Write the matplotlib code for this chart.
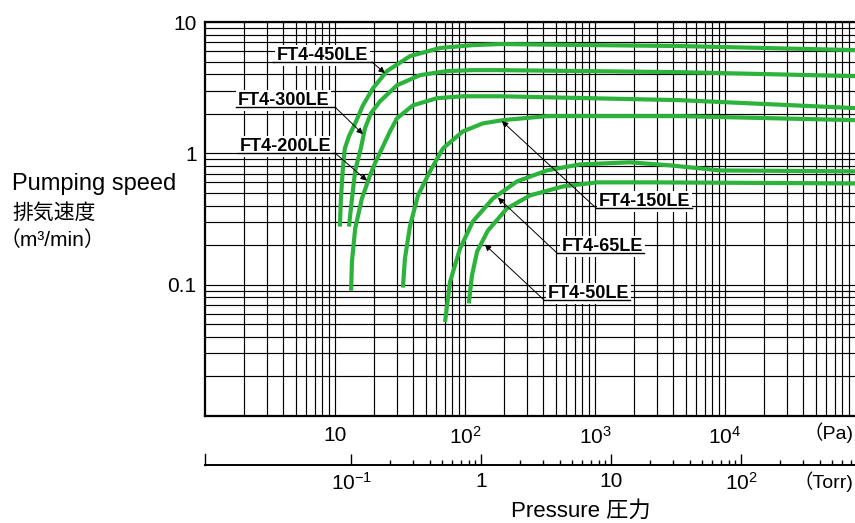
import numpy as np
import matplotlib.pyplot as plt
from matplotlib.ticker import LogLocator, NullFormatter, FixedLocator

plt.rcParams['font.family'] = ['Liberation Sans', 'Noto Sans CJK JP']
plt.rcParams['mathtext.fontset'] = 'custom'
plt.rcParams['mathtext.rm'] = 'Liberation Sans'

# pumping speed curves: pressure (Pa) / speed (m3/min)
ft450_pa = [10.9, 11.1, 11.5, 11.9, 12.8, 14.3, 16.4, 19.6, 25.1, 37.8, 64.2, 115, 186, 4510, 1e5]
ft450_s = [0.277, 0.45, 0.77, 1.09, 1.35, 1.69, 2.32, 3.13, 4.23, 5.50, 6.34, 6.67, 6.79, 6.56, 6.11]

ft300_pa = [12.8, 13.5, 14.3, 15.8, 17.0, 18.9, 22.2, 30.0, 45.1, 72.7, 115, 186, 4510, 1e5]
ft300_s = [0.277, 0.45, 0.74, 1.09, 1.55, 2.02, 2.49, 3.30, 3.94, 4.23, 4.30, 4.30, 4.15, 3.87]

ft200_pa = [13.3, 13.5, 14.3, 16.1, 18.6, 20.3, 23.0, 26.5, 30.0, 39.8, 60.9, 96.5, 186, 4510, 1e5]
ft200_s = [0.090, 0.150, 0.268, 0.453, 0.68, 0.84, 1.09, 1.47, 1.85, 2.32, 2.63, 2.72, 2.72, 2.54, 2.21]

ft150_pa = [33.3, 34.5, 37.8, 43.5, 53.8, 67.7, 96.5, 137, 196, 427, 4510, 1e5]
ft150_s = [0.095, 0.158, 0.282, 0.478, 0.729, 1.09, 1.47, 1.69, 1.79, 1.92, 1.92, 1.79]

ft65_pa = [70.2, 76.7, 91.5, 115, 164, 251, 427, 767, 1860, 3780, 9160, 1e5]
ft65_s = [0.052, 0.105, 0.188, 0.303, 0.453, 0.611, 0.741, 0.824, 0.854, 0.810, 0.741, 0.729]

ft50_pa = [107, 113, 124, 150, 210, 316, 567, 1036, 2790, 1e5]
ft50_s = [0.072, 0.117, 0.179, 0.258, 0.380, 0.478, 0.560, 0.601, 0.601, 0.590]

names = ['FT4-450LE', 'FT4-300LE', 'FT4-200LE', 'FT4-150LE', 'FT4-65LE', 'FT4-50LE']
curves = [(ft450_pa, ft450_s), (ft300_pa, ft300_s), (ft200_pa, ft200_s),
          (ft150_pa, ft150_s), (ft65_pa, ft65_s), (ft50_pa, ft50_s)]
# where each leader arrow touches its curve (Pa, m3/min)
arrow_tips = [(24.2, 4.08), (16.4, 1.40), (17.6, 0.62), (192, 1.76), (179, 0.46), (142, 0.202)]

pa_ticks = [10, 100, 1000, 10000]
pa_labels = ['10', r'$\mathregular{10^{2}}$', r'$\mathregular{10^{3}}$', r'$\mathregular{10^{4}}$']
torr_ticks = [0.1, 1, 10, 100]
torr_labels = [r'$\mathregular{10^{-1}}$', '1', '10', r'$\mathregular{10^{2}}$']
speed_ticks = [0.1, 1, 10]
speed_labels = ['0.1', '1', '10']

PA_PER_TORR = 133.322
GREEN = '#2bb33b'

W, H = 855, 523
fig = plt.figure(figsize=(W / 100, H / 100), dpi=100)

def fig_xy(px, py):
    return px / W, 1 - py / H

# main axes: 1 .. 1e5 Pa, 0.01 .. 10 m3/min
ax = fig.add_axes([205 / W, 1 - 416 / H, 650 / W, 394 / H])
ax.set_xscale('log')
ax.set_yscale('log')
ax.set_xlim(1, 1e5)
ax.set_ylim(0.01, 10)

for a in (ax.xaxis, ax.yaxis):
    a.set_minor_locator(LogLocator(base=10, subs=np.arange(2, 10), numticks=50))
    a.set_minor_formatter(NullFormatter())
ax.set_xticks(pa_ticks, pa_labels)
ax.set_yticks(speed_ticks, speed_labels)
ax.tick_params(which='both', length=0)
ax.tick_params(axis='x', pad=7, labelsize=15)
ax.tick_params(axis='y', pad=6, labelsize=15)
ax.grid(True, which='both', color='black', lw=0.85)
ax.set_axisbelow(True)
for s in ('left', 'top', 'bottom'):
    ax.spines[s].set_linewidth(1.6)
ax.spines['right'].set_visible(False)

for (p, s) in curves:
    ax.plot(p, s, color=GREEN, lw=3, solid_capstyle='butt', solid_joinstyle='round', zorder=3)

# labels with underline and leader arrow, positions in pixels
# (text left, baseline, underline y, underline x0, x1, leader starts at 'right' or 'left')
label_layout = [
    (277, 60, 62, 273, 372, 'right'),
    (238, 105, 107, 236, 335, 'right'),
    (240, 151, 153, 238, 335, 'right'),
    (599, 206, 208, 596, 692, 'left'),
    (562, 251, 253, 557, 644, 'left'),
    (548, 298, 300, 544, 630, 'left'),
]

def ax_xy(px, py):
    return (px - 205) / 650, (416 - py) / 394

for name, tip, (tx, ty, uy, u0, u1, side) in zip(names, arrow_tips, label_layout):
    ax.text(*ax_xy(tx, ty), name, transform=ax.transAxes, fontsize=13, fontweight='bold',
            ha='left', va='baseline', zorder=5,
            bbox=dict(boxstyle='square,pad=0.1', fc='white', ec='none'))
    xa, ya = ax_xy(u0, uy)
    xb, yb = ax_xy(u1, uy)
    ax.plot([xa, xb], [ya, yb], transform=ax.transAxes, color='black', lw=1.0, zorder=6)
    start = (xb, yb) if side == 'right' else (xa, ya)
    ax.annotate('', xy=tip, xycoords='data', xytext=start, textcoords='axes fraction',
                arrowprops=dict(arrowstyle='-|>', color='black', lw=0.7,
                                mutation_scale=9, shrinkA=0, shrinkB=0), zorder=6)

# secondary pressure scale in Torr
axt = fig.add_axes([205 / W, 1 - 465 / H, 650 / W, 11 / H])
axt.set_xscale('log')
axt.set_xlim(1 / PA_PER_TORR, 1e5 / PA_PER_TORR)
axt.set_ylim(0, 1)
axt.set_yticks([])
axt.patch.set_visible(False)
for s in ('top', 'right'):
    axt.spines[s].set_visible(False)
axt.spines['bottom'].set_linewidth(1.4)
axt.spines['left'].set_linewidth(1.0)
axt.set_xticks(torr_ticks, torr_labels)
minor_torr = [k * 10.0 ** e for e in range(-1, 3) for k in range(2, 10)]
axt.xaxis.set_minor_locator(FixedLocator(minor_torr))
axt.xaxis.set_minor_formatter(NullFormatter())
axt.tick_params(axis='x', which='major', direction='in', length=8, width=1.0, pad=5, labelsize=15)
axt.tick_params(axis='x', which='minor', direction='in', length=3.5, width=1.0)

# text around the axes
fig.text(*fig_xy(12, 184), 'Pumping speed', fontsize=17, ha='left', va='center')
fig.text(*fig_xy(12, 213), '排気速度', fontsize=15, ha='left', va='center')
fig.text(*fig_xy(0, 240), '（m³/min）', fontsize=15, ha='left', va='center')
fig.text(*fig_xy(853, 433), '（Pa)', fontsize=14, ha='right', va='center')
fig.text(*fig_xy(853, 482), '（Torr)', fontsize=14, ha='right', va='center')
fig.text(*fig_xy(581, 511), 'Pressure 圧力', fontsize=16, ha='center', va='center')

fig.savefig('out.png', dpi=100)
